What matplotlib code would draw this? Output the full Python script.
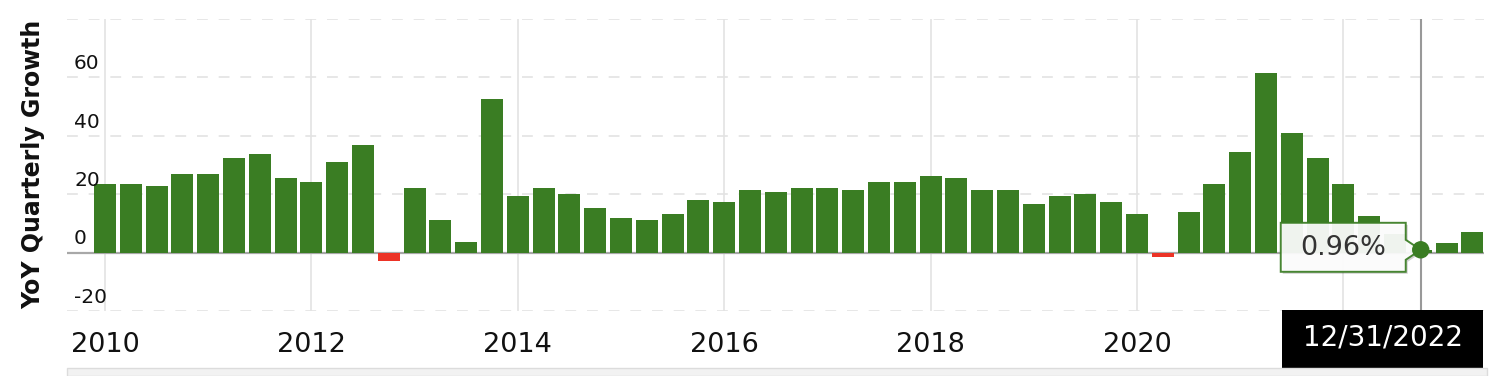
import numpy as np
import matplotlib.pyplot as plt
from matplotlib.patches import Polygon, Rectangle

# YoY quarterly growth (%), 2010 Q1 .. 2023 Q2
first_year = 2010
growth = [23.5, 23.5, 22.8, 26.9, 26.9, 32.3, 33.7, 25.5, 24.2, 30.9,
          37.0, -3.0, 22.1, 11.3, 3.8, 52.6, 19.4, 22.1, 20.1, 15.4,
          12.0, 11.3, 13.3, 18.1, 17.4, 21.5, 20.8, 22.1, 22.1, 21.5,
          24.2, 24.2, 26.2, 25.5, 21.5, 21.5, 16.7, 19.4, 20.1, 17.4,
          13.3, -1.6, 14.0, 23.5, 34.4, 61.5, 41.1, 32.3, 23.5, 12.6,
          6.5, 0.96, 3.2, 7.2]
year_grid = [2010, 2012, 2014, 2016, 2018, 2020, 2022]
year_labels = [2010, 2012, 2014, 2016, 2018, 2020]  # 2022 sits under the date box
y_ticks = [60, 40, 20, 0, -20]
hl_index = 51          # highlighted quarter
hl_label = "0.96%"
hl_date = "12/31/2022"

GREEN = "#3a7d23"
RED = "#ec3326"

W, H = 1504, 376
fig = plt.figure(figsize=(W / 100, H / 100), dpi=100)
ax = fig.add_axes([67 / W, 1 - 311 / H, (1484 - 67) / W, 292 / H])

x = first_year + 0.25 * np.arange(len(growth))
vals = np.array(growth)
colors = [GREEN if v >= 0 else RED for v in vals]
ax.bar(x, vals, width=0.2125, color=colors, zorder=3)

ax.set_xlim(2009.632, 2023.363)
ax.set_ylim(-20, 80)

# grid
for yv in [80, 60, 40, 20, -20]:
    ax.axhline(yv, color="#e3e3e3", lw=1.2, ls=(0, (6.5, 6.5)), zorder=1)
ax.axhline(0, color="#a8a8a8", lw=1.6, zorder=2)
for yr in year_grid:
    ax.axvline(yr, color="#e3e3e3", lw=1.2, zorder=1)

for s in ax.spines.values():
    s.set_visible(False)
ax.set_xticks([])
ax.set_yticks([])

# y labels, inside the plot just above the gridlines
for yv in y_ticks:
    ax.annotate(str(yv), (0.005, yv), xycoords=("axes fraction", "data"),
                xytext=(0, 3), textcoords="offset points",
                ha="left", va="bottom", fontsize=14.5, color="#111", zorder=4)

# x labels
for yr in year_labels:
    ax.text(yr, -0.14, str(yr), transform=ax.get_xaxis_transform(),
            ha="center", va="baseline", fontsize=19.5, color="#111")

fig.text(33 / W, 1 - 164.5 / H, "YoY Quarterly Growth", rotation=90,
         ha="center", va="center", fontsize=17, fontweight="bold", color="#111")

# crosshair + tooltip
hx, hy = x[hl_index], vals[hl_index]
ax.axvline(hx, color="#999999", lw=1.5, zorder=4)

fig.canvas.draw()
px, py = ax.transData.transform((hx, hy))
offs = np.array([(-140, 27), (-15, 27), (-15, 10), (0, 0), (-15, -10),
                 (-15, -22), (-140, -22)], dtype=float)
shadow = Polygon(offs + [px + 2, py - 2], closed=True, transform=None,
                 facecolor="#000000", alpha=0.18, edgecolor="none", zorder=5)
box = Polygon(offs + [px, py], closed=True, transform=None,
              facecolor="white", alpha=0.93, edgecolor=GREEN, lw=1.4, zorder=6)
fig.patches.extend([shadow, box])
fig.text((px - 78) / W, (py + 2) / H, hl_label, ha="center", va="center",
         fontsize=19.5, color="#333333", zorder=7)
fig.patches.append(plt.Circle((px, py), 8, transform=None, color=GREEN, zorder=8))

# date label box
fig.patches.append(Rectangle((1282 / W, 1 - 368 / H), 201 / W, 58 / H,
                             transform=fig.transFigure, facecolor="black",
                             edgecolor="none", zorder=9))
fig.text(1382.5 / W, 1 - 338 / H, hl_date, ha="center", va="center",
         fontsize=20, color="white", zorder=10)

# navigator strip at the bottom
fig.patches.append(Rectangle((67 / W, 0), (1487 - 67) / W, 8 / H,
                             transform=fig.transFigure, facecolor="#f2f2f2",
                             edgecolor="#dcdcdc", lw=1, zorder=9))

fig.savefig("out.png", dpi=100)
